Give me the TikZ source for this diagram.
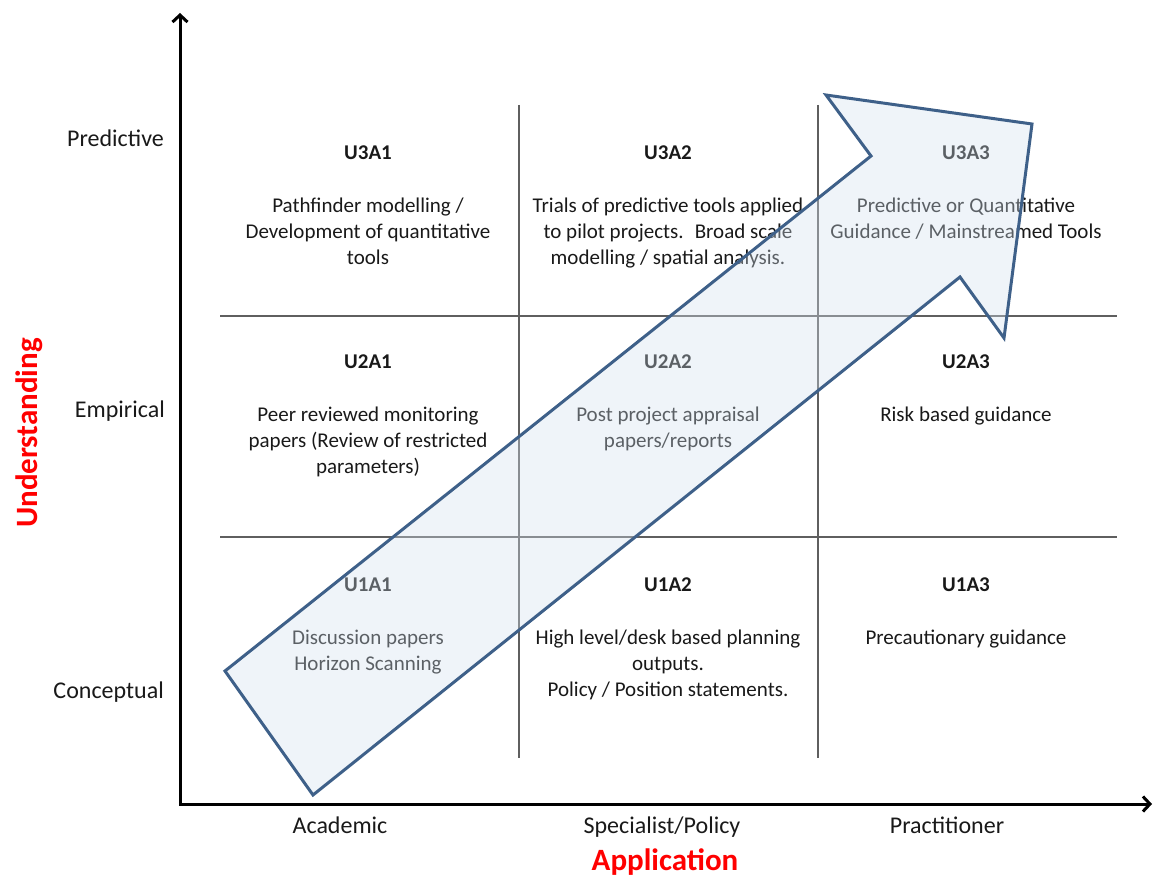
\documentclass[tikz,border=0pt]{standalone}
\usepackage{fontspec}
\setmainfont{Carlito}
\usetikzlibrary{arrows.meta}
\definecolor{arrowedge}{RGB}{62,96,137}
\definecolor{arrowfill}{RGB}{210,224,238}
\definecolor{gridgray}{RGB}{95,95,95}
\definecolor{labelred}{RGB}{255,0,0}
\definecolor{txt}{RGB}{25,25,25}
\begin{document}
\begin{tikzpicture}[x=1pt,y=-1pt,
  celltxt/.style={font=\fontsize{21}{26}\selectfont, anchor=base, inner sep=0pt, text=txt},
  celltitle/.style={font=\fontsize{21}{26}\selectfont\bfseries, anchor=base, inner sep=0pt, text=txt},
  axislbl/.style={font=\fontsize{24}{28}\selectfont, inner sep=0pt, text=txt},
  axistitle/.style={font=\fontsize{31}{36}\selectfont\bfseries, text=labelred, inner sep=0pt},
  gridline/.style={draw=gridgray, line width=1.4pt},
  axisline/.style={draw=black, line width=3pt, line join=miter,
    {Straight Barb[length=7pt,width=15pt]}-{Straight Barb[length=7pt,width=15pt]}},
  bigarrow/.style={draw=arrowedge, line width=3pt, fill=arrowfill, fill opacity=0.36, line join=miter}]
\useasboundingbox (0,0) rectangle (1154,877);

% grid
\coordinate (h1a) at (220,316); \coordinate (h1b) at (1117,316);
\coordinate (h2a) at (220,537); \coordinate (h2b) at (1117,537);
\coordinate (v1a) at (519,105); \coordinate (v1b) at (519,758);
\coordinate (v2a) at (818,105); \coordinate (v2b) at (818,758);
\draw[gridline] (h1a) -- (h1b);
\draw[gridline] (h2a) -- (h2b);
\draw[gridline] (v1a) -- (v1b);
\draw[gridline] (v2a) -- (v2b);

% axes
\coordinate (ytip) at (180,13);
\coordinate (O) at (180,804);
\coordinate (xtip) at (1152,804);
\draw[axisline] (ytip) -- (O) -- (xtip);

% axis labels
\node[axislbl, anchor=base east] (lpred) at (164,147) {Predictive};
\node[axislbl, anchor=base east] (lemp) at (165,417) {Empirical};
\node[axislbl, anchor=base east] (lcon) at (164,698) {Conceptual};
\node[axislbl, anchor=base] (lacad) at (340,833) {Academic};
\node[axislbl, anchor=base] (lspec) at (662,833) {Specialist/Policy};
\node[axislbl, anchor=base] (lprac) at (947,833) {Practitioner};
\node[axistitle, anchor=base] (tapp) at (665,870) {Application};
\node[axistitle, anchor=base, rotate=90] (tund) at (37,433) {Understanding};

% row 3
\node[celltitle] (u3a1) at (368,160) {U3A1};
\node[celltxt] (u3a1l1) at (368,213) {Pathfinder modelling /};
\node[celltxt] (u3a1l2) at (368,239) {Development of quantitative};
\node[celltxt] (u3a1l3) at (368,265) {tools};
\node[celltitle] (u3a2) at (668,160) {U3A2};
\node[celltxt] (u3a2l1) at (668,213) {Trials of predictive tools applied};
\node[celltxt] (u3a2l2) at (668,239) {to pilot projects.~ Broad scale};
\node[celltxt] (u3a2l3) at (668,265) {modelling / spatial analysis.};
\node[celltitle] (u3a3) at (966,160) {U3A3};
\node[celltxt] (u3a3l1) at (966,213) {Predictive or Quantitative};
\node[celltxt] (u3a3l2) at (966,239) {Guidance / Mainstreamed Tools};

% row 2
\node[celltitle] (u2a1) at (368,368) {U2A1};
\node[celltxt] (u2a1l1) at (368,421) {Peer reviewed monitoring};
\node[celltxt] (u2a1l2) at (368,447) {papers (Review of restricted};
\node[celltxt] (u2a1l3) at (368,473) {parameters)};
\node[celltitle] (u2a2) at (668,368) {U2A2};
\node[celltxt] (u2a2l1) at (668,421) {Post project appraisal};
\node[celltxt] (u2a2l2) at (668,447) {papers/reports};
\node[celltitle] (u2a3) at (966,368) {U2A3};
\node[celltxt] (u2a3l1) at (966,421) {Risk based guidance};

% row 1
\node[celltitle] (u1a1) at (368,591) {U1A1};
\node[celltxt] (u1a1l1) at (368,644) {Discussion papers};
\node[celltxt] (u1a1l2) at (368,670) {Horizon Scanning};
\node[celltitle] (u1a2) at (668,591) {U1A2};
\node[celltxt] (u1a2l1) at (668,644) {High level/desk based planning};
\node[celltxt] (u1a2l2) at (668,670) {outputs.};
\node[celltxt] (u1a2l3) at (668,696) {Policy / Position statements.};
\node[celltitle] (u1a3) at (966,591) {U1A3};
\node[celltxt] (u1a3l1) at (966,644) {Precautionary guidance};

% big arrow
\draw[bigarrow] (225,671) -- (871,156) -- (826,95) -- (1032,124) -- (1004,338) -- (960,277) -- (313,795) -- cycle;
\end{tikzpicture}
\end{document}
